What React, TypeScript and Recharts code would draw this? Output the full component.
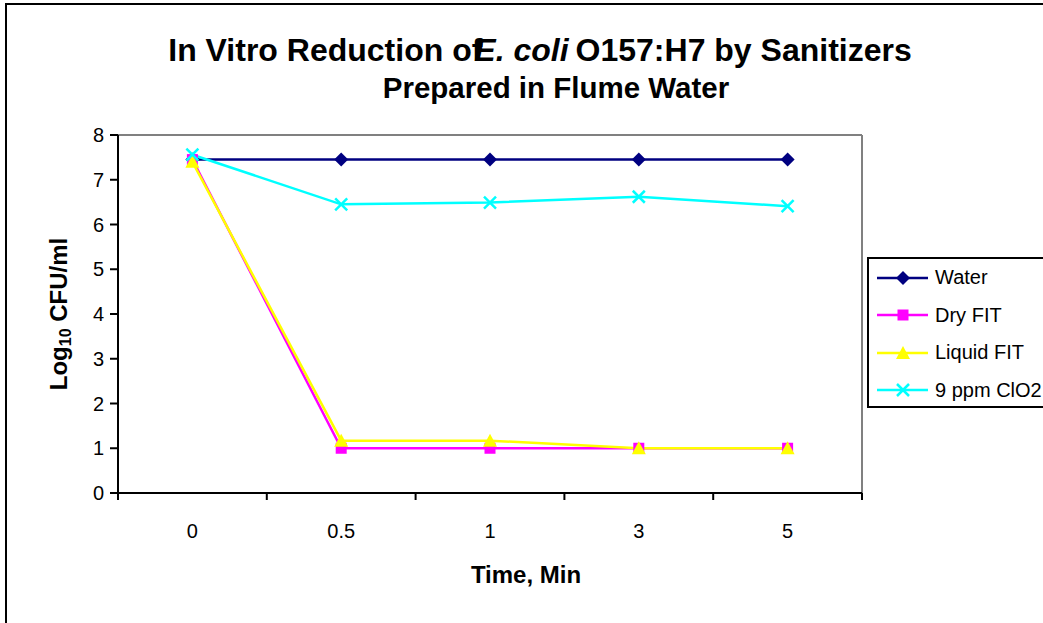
import { LineChart, Line, XAxis, YAxis, ReferenceLine } from 'recharts';

const times = ['0', '0.5', '1', '3', '5'];
const water = [7.45, 7.45, 7.45, 7.45, 7.45];
const dryFit = [7.45, 1.0, 1.0, 1.0, 1.0];
const liquidFit = [7.4, 1.17, 1.17, 1.0, 1.0];
const clo2 = [7.56, 6.45, 6.49, 6.62, 6.41];
const yTicks = [0, 1, 2, 3, 4, 5, 6, 7, 8];

const data = times.map((t, i) => ({
  x: i,
  label: t,
  water: water[i],
  dry: dryFit[i],
  liquid: liquidFit[i],
  clo2: clo2[i],
}));

// boundaries between categories get tick marks, centers get labels
const xTicks = [-0.5, 0, 0.5, 1, 1.5, 2, 2.5, 3, 3.5, 4, 4.5];

const FONT = 'Arial, "Liberation Sans", sans-serif';

const Diamond = ({ cx, cy, color }: any) => (
  <polygon points={`${cx},${cy - 7} ${cx + 7},${cy} ${cx},${cy + 7} ${cx - 7},${cy}`} fill={color} />
);
const Square = ({ cx, cy, color }: any) => (
  <rect x={cx - 5.5} y={cy - 5.5} width={11} height={11} fill={color} />
);
const Triangle = ({ cx, cy, color }: any) => (
  <polygon points={`${cx},${cy - 7} ${cx + 7},${cy + 6} ${cx - 7},${cy + 6}`} fill={color} />
);
const Cross = ({ cx, cy, color }: any) => (
  <g stroke={color} strokeWidth={2.5}>
    <line x1={cx - 6} y1={cy - 6} x2={cx + 6} y2={cy + 6} />
    <line x1={cx - 6} y1={cy + 6} x2={cx + 6} y2={cy - 6} />
  </g>
);

const series = [
  { key: 'water', name: 'Water', color: '#000080', Marker: Diamond },
  { key: 'dry', name: 'Dry FIT', color: '#FF00FF', Marker: Square },
  { key: 'liquid', name: 'Liquid FIT', color: '#FFFF00', Marker: Triangle },
  { key: 'clo2', name: '9 ppm ClO2', color: '#00FFFF', Marker: Cross },
];

const XTick = ({ x, y, payload }: any) => {
  const v = payload.value;
  if (Number.isInteger(v)) {
    return (
      <text x={x} y={y + 45} textAnchor="middle" fontSize={20} fontFamily={FONT} fill="#000">
        {times[v]}
      </text>
    );
  }
  return <line x1={x} y1={y} x2={x} y2={y + 7} stroke="#000" strokeWidth={2} />;
};

const LegendBox = () => (
  <div
    style={{
      position: 'absolute',
      left: 867,
      top: 257,
      border: '2px solid #000',
      background: '#fff',
      width: 200,
      height: 151,
      boxSizing: 'border-box',
      fontFamily: FONT,
      fontSize: 20,
    }}
  >
    {series.map((s) => (
      <div key={s.key} style={{ display: 'flex', alignItems: 'center', height: 37.5 }}>
        <svg width={66} height={20} style={{ flex: 'none' }}>
          <line x1={8} y1={10} x2={59} y2={10} stroke={s.color} strokeWidth={2.5} />
          <s.Marker cx={34} cy={10} color={s.color} />
        </svg>
        <span style={{ whiteSpace: 'nowrap' }}>{s.name}</span>
      </div>
    ))}
  </div>
);

const titleStyle: any = {
  position: 'absolute',
  left: 0,
  textAlign: 'center',
  fontFamily: FONT,
  fontWeight: 'bold',
  whiteSpace: 'nowrap',
};

export default function App() {
  return (
    <div style={{ position: 'relative', width: 1043, height: 623, background: '#fff', overflow: 'hidden' }}>
      <style>{'body{margin:0}'}</style>
      <div
        style={{
          position: 'absolute',
          left: 5,
          top: 3,
          width: 1100,
          height: 700,
          borderLeft: '2px solid #000',
          borderTop: '2px solid #000',
        }}
      />
      <div style={{ ...titleStyle, top: 30, width: 1080, fontSize: 32, lineHeight: '40px' }}>
        In Vitro Reduction of
        <i style={{ display: 'inline-block', marginLeft: -8 }}>E. coli</i>
        <span style={{ display: 'inline-block', marginLeft: 7 }}>O157:H7 by Sanitizers</span>
      </div>
      <div style={{ ...titleStyle, top: 68, width: 1112, fontSize: 29.5, lineHeight: '40px' }}>
        Prepared in Flume Water
      </div>
      <div style={{ position: 'absolute', left: 0, top: 0 }}>
        <LineChart
          width={1043}
          height={623}
          data={data}
          margin={{ top: 135, right: 181, left: 58, bottom: 100 }}
        >
          <ReferenceLine y={8} stroke="#808080" strokeWidth={2} />
          <ReferenceLine x={4.5} stroke="#808080" strokeWidth={2} />
          <XAxis
            dataKey="x"
            type="number"
            domain={[-0.5, 4.5]}
            ticks={xTicks}
            interval={0}
            height={30}
            tickLine={false}
            tickSize={0}
            tickMargin={0}
            axisLine={{ stroke: '#000', strokeWidth: 2 }}
            tick={<XTick />}
          />
          <YAxis
            domain={[0, 8]}
            ticks={yTicks}
            interval={0}
            width={60}
            tickSize={8}
            tickMargin={6}
            axisLine={{ stroke: '#000', strokeWidth: 2 }}
            tickLine={{ stroke: '#000', strokeWidth: 2 }}
            tick={{ fill: '#000', fontSize: 20, fontFamily: FONT }}
          />
          {series.map((s) => (
            <Line
              key={s.key}
              dataKey={s.key}
              name={s.name}
              stroke={s.color}
              strokeWidth={2.5}
              isAnimationActive={false}
              dot={(p: any) => <s.Marker key={`${s.key}-${p.index}`} cx={p.cx} cy={p.cy} color={s.color} />}
              activeDot={false}
            />
          ))}
        </LineChart>
      </div>
      <LegendBox />
      <div
        style={{
          position: 'absolute',
          left: 60,
          top: 314,
          transform: 'translate(-50%, -50%) rotate(-90deg)',
          fontFamily: FONT,
          fontWeight: 'bold',
          fontSize: 24,
          whiteSpace: 'nowrap',
        }}
      >
        Log<sub style={{ fontSize: 16, verticalAlign: '-4px' }}>10</sub> CFU/ml
      </div>
      <div
        style={{
          position: 'absolute',
          left: 526,
          top: 575,
          transform: 'translate(-50%, -50%)',
          fontFamily: FONT,
          fontWeight: 'bold',
          fontSize: 24,
          whiteSpace: 'nowrap',
        }}
      >
        Time, Min
      </div>
    </div>
  );
}
